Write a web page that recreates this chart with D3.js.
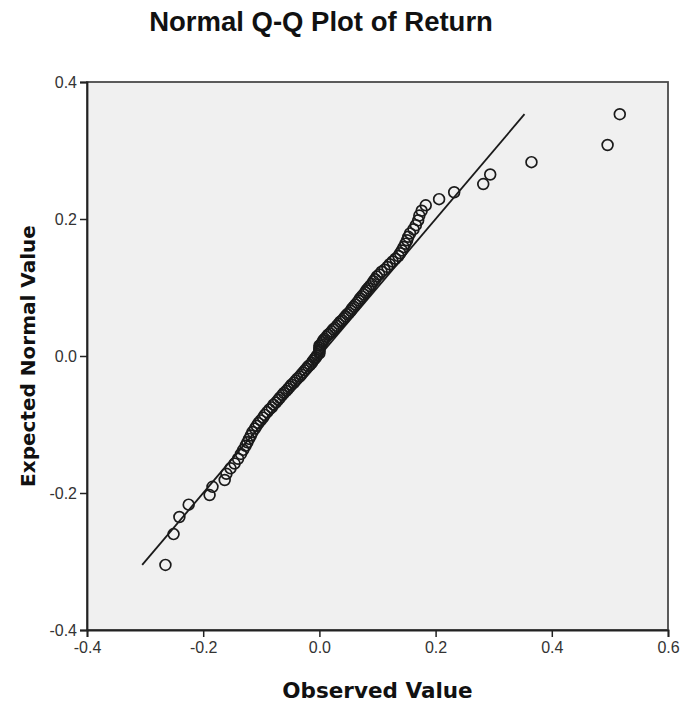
<!DOCTYPE html>
<html>
<head>
<meta charset="utf-8">
<script src="https://cdn.jsdelivr.net/npm/d3@7"></script>
<style>
  body { margin: 0; background: #fff; }
  svg { display: block; }
</style>
</head>
<body>
<div id="chart"></div>
<script>
'use strict';

var title = 'Normal Q-Q Plot of Return';
var xTitle = 'Observed Value';
var yTitle = 'Expected Normal Value';

var xTicks = [-0.4, -0.2, 0.0, 0.2, 0.4, 0.6];
var yTicks = [-0.4, -0.2, 0.0, 0.2, 0.4];

var observed = [
  -0.265, -0.251, -0.241, -0.225, -0.189, -0.184, -0.163, -0.160, -0.153, -0.146,
  -0.140, -0.135, -0.131, -0.127, -0.124, -0.121, -0.118, -0.115, -0.111, -0.108,
  -0.105, -0.101, -0.097, -0.094, -0.090, -0.086, -0.082, -0.079, -0.075, -0.071,
  -0.068, -0.064, -0.061, -0.057, -0.054, -0.051, -0.048, -0.044, -0.041, -0.038,
  -0.034, -0.031, -0.028, -0.025, -0.022, -0.019, -0.016, -0.013, -0.011, -0.008,
  -0.006, -0.004, 0.000, 0.000, 0.000, 0.000, 0.000, 0.003, 0.005, 0.007,
  0.009, 0.012, 0.015, 0.018, 0.021, 0.024, 0.027, 0.030, 0.033, 0.036,
  0.039, 0.042, 0.045, 0.048, 0.051, 0.054, 0.056, 0.059, 0.062, 0.065,
  0.068, 0.070, 0.073, 0.076, 0.079, 0.081, 0.084, 0.087, 0.090, 0.093,
  0.096, 0.099, 0.103, 0.107, 0.112, 0.117, 0.121, 0.126, 0.131, 0.136,
  0.139, 0.142, 0.145, 0.148, 0.151, 0.153, 0.156, 0.162, 0.166, 0.170,
  0.172, 0.176, 0.183, 0.206, 0.232, 0.282, 0.294, 0.365, 0.496, 0.517
];

// expected normal values, same order
var expected = [
  -0.305, -0.260, -0.235, -0.217, -0.203, -0.191, -0.181, -0.172, -0.164, -0.157,
  -0.150, -0.143, -0.137, -0.131, -0.126, -0.121, -0.116, -0.111, -0.106, -0.102,
  -0.098, -0.094, -0.090, -0.086, -0.082, -0.078, -0.075, -0.071, -0.068, -0.064,
  -0.061, -0.057, -0.054, -0.051, -0.048, -0.045, -0.042, -0.039, -0.036, -0.033,
  -0.030, -0.027, -0.024, -0.021, -0.018, -0.015, -0.013, -0.010, -0.007, -0.004,
  -0.002, 0.001, 0.004, 0.007, 0.009, 0.012, 0.015, 0.017, 0.020, 0.023,
  0.025, 0.028, 0.031, 0.033, 0.036, 0.039, 0.041, 0.044, 0.047, 0.050,
  0.052, 0.055, 0.058, 0.061, 0.063, 0.066, 0.069, 0.072, 0.075, 0.078,
  0.081, 0.084, 0.087, 0.090, 0.093, 0.096, 0.099, 0.102, 0.105, 0.109,
  0.112, 0.116, 0.119, 0.123, 0.126, 0.130, 0.134, 0.138, 0.142, 0.146,
  0.150, 0.154, 0.159, 0.164, 0.169, 0.174, 0.179, 0.185, 0.191, 0.198,
  0.205, 0.212, 0.220, 0.229, 0.239, 0.251, 0.265, 0.283, 0.308, 0.353
];

// reference line y = x between these values
var lineEnds = [-0.305, 0.353];

var width = 684, height = 704;
var margin = {top: 82, right: 16, bottom: 74, left: 87};

var svg = d3.select('#chart').append('svg')
  .attr('width', width)
  .attr('height', height);

var x = d3.scaleLinear().domain([-0.4, 0.6]).range([margin.left, width - margin.right]);
var y = d3.scaleLinear().domain([-0.4, 0.4]).range([height - margin.bottom, margin.top]);

// plot background + frame
svg.append('rect')
  .attr('x', x(-0.4))
  .attr('y', y(0.4))
  .attr('width', x(0.6) - x(-0.4))
  .attr('height', y(-0.4) - y(0.4))
  .attr('fill', '#f0f0f0')
  .attr('stroke', '#4a4a4a')
  .attr('stroke-width', 1.8);

var fmt = function(d) { return d.toFixed(1); };

var xAxis = svg.append('g')
  .attr('transform', 'translate(0,' + y(-0.4) + ')')
  .call(d3.axisBottom(x).tickValues(xTicks).tickFormat(fmt).tickSize(7).tickPadding(5));

var yAxis = svg.append('g')
  .attr('transform', 'translate(' + x(-0.4) + ',0)')
  .call(d3.axisLeft(y).tickValues(yTicks).tickFormat(fmt).tickSize(7).tickPadding(3));

[xAxis, yAxis].forEach(function(g) {
  g.attr('font-size', 16).attr('font-family', '"Liberation Sans", Arial, sans-serif');
  g.select('.domain').attr('stroke', '#222').attr('stroke-width', 1.8);
  g.selectAll('.tick line').attr('stroke', '#222').attr('stroke-width', 1.5);
  g.selectAll('.tick text').attr('fill', '#333');
});

// reference line
svg.append('line')
  .attr('x1', x(lineEnds[0]))
  .attr('y1', y(lineEnds[0]))
  .attr('x2', x(lineEnds[1]))
  .attr('y2', y(lineEnds[1]))
  .attr('stroke', '#1a1a1a')
  .attr('stroke-width', 1.8);

var points = observed.map(function(d, i) { return {obs: d, exp: expected[i]}; });

svg.append('g').selectAll('circle')
  .data(points)
  .enter().append('circle')
  .attr('cx', function(d) { return x(d.obs); })
  .attr('cy', function(d) { return y(d.exp); })
  .attr('r', 5.4)
  .attr('fill', 'none')
  .attr('stroke', '#1a1a1a')
  .attr('stroke-width', 1.7);

// titles
svg.append('text')
  .attr('x', 321)
  .attr('y', 31)
  .attr('text-anchor', 'middle')
  .style('font-family', '"Liberation Sans", Arial, sans-serif')
  .style('font-weight', 'bold')
  .style('font-size', '27.5px')
  .attr('fill', '#111')
  .text(title);

svg.append('text')
  .attr('x', (x(-0.4) + x(0.6)) / 2)
  .attr('y', 698)
  .attr('text-anchor', 'middle')
  .style('font-family', '"DejaVu Sans", Verdana, sans-serif')
  .style('font-weight', 'bold')
  .style('font-size', '21.5px')
  .attr('fill', '#111')
  .text(xTitle);

svg.append('text')
  .attr('transform', 'translate(35,' + ((y(-0.4) + y(0.4)) / 2) + ') rotate(-90)')
  .attr('text-anchor', 'middle')
  .style('font-family', '"DejaVu Sans", Verdana, sans-serif')
  .style('font-weight', 'bold')
  .style('font-size', '20px')
  .attr('fill', '#111')
  .text(yTitle);
</script>
</body>
</html>
